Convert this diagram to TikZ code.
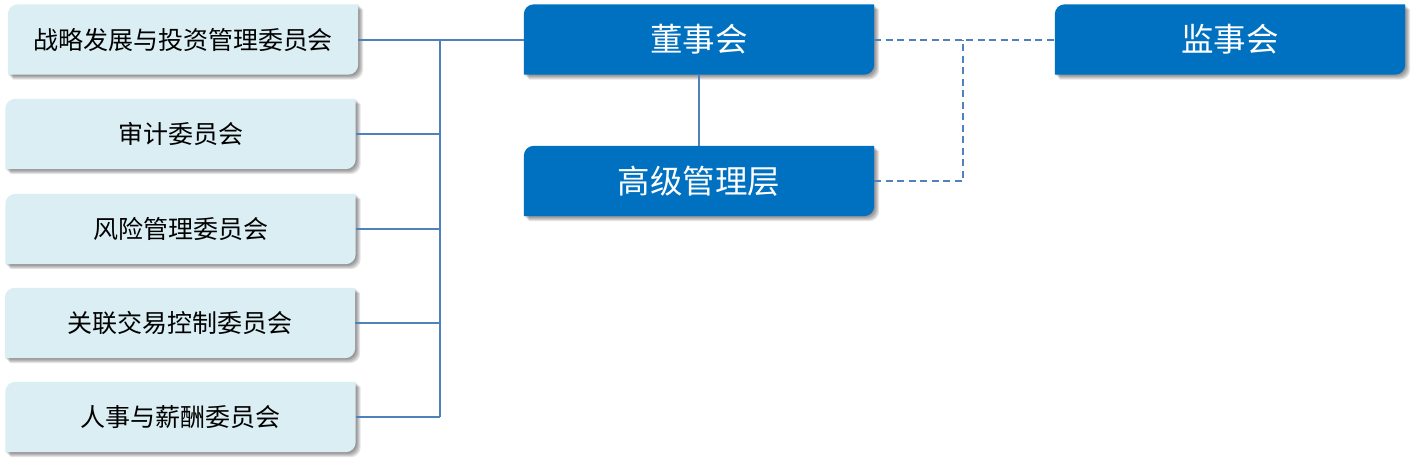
\documentclass[tikz,border=0pt]{standalone}
\usepackage{fontspec}
\setmainfont{Noto Sans CJK SC}
\usetikzlibrary{positioning,calc,backgrounds}
\definecolor{paleblue}{HTML}{DAEEF3}
\definecolor{corpblue}{HTML}{0070C0}
\definecolor{linkblue}{HTML}{4F81BD}

\begin{document}
\begin{tikzpicture}[x=1pt,y=1pt,
    committee/.style={minimum width=350pt, minimum height=70pt, inner sep=0pt,
                      font=\fontsize{25}{30}\selectfont},
    organ/.style={minimum width=350pt, minimum height=70pt, inner sep=0pt,
                  text=white, font=\fontsize{32.5}{38}\selectfont},
    card/.style 2 args={insert path={([shift={#2}]#1.south west)
        -- ([shift={#2},yshift=-10pt]#1.north west) arc[start angle=180, end angle=90, radius=10pt]
        -- ([shift={#2}]#1.north east)
        -- ([shift={#2},yshift=10pt]#1.south east) arc[start angle=0, end angle=-90, radius=10pt]
        -- cycle}},
    link/.style={linkblue, line width=2pt},
    dashlink/.style={link, dash pattern=on 7pt off 4.5pt}]
  \useasboundingbox (0,0) rectangle (1419,-466);
  % committees
  \foreach \name/\xx/\yy/\txt in {c1/183/39.5/战略发展与投资管理委员会, c2/180.5/134/审计委员会,
      c3/180.5/229/风险管理委员会, c4/180/323/关联交易控制委员会, c5/180.5/417/人事与薪酬委员会}
    \node[committee] (\name) at (\xx,-\yy) {\txt};
  \node[organ] (board) at (699,-39.5) {董事会};
  \node[organ] (mgmt)  at (699,-181)  {高级管理层};
  \node[organ] (super) at (1230,-39.5) {监事会};
  \begin{scope}[on background layer]
    \foreach \n/\c in {c1/paleblue, c2/paleblue, c3/paleblue, c4/paleblue, c5/paleblue,
                       board/corpblue, mgmt/corpblue, super/corpblue} {
      % soft shadow
      \foreach \s in {1,...,5}
        \fill[black, opacity=0.1, card={\n}{(\s pt,-\s pt)}];
      \fill[\c, card={\n}{(0pt,0pt)}];
    }
  \end{scope}
  % connectors
  \coordinate (bus) at (440,0);
  \coordinate (split) at (963,0);
  \draw[link] (c1.east) -- (board.west);
  \foreach \n in {c2,c3,c4,c5}
    \draw[link] (\n.east) -- (\n.east -| bus);
  \draw[link, line width=2.6pt] (c1.east -| bus) -- (c5.east -| bus);
  \draw[link] (board.south) -- (mgmt.north);
  \draw[dashlink] (board.east) -- (super.west);
  \draw[dashlink] (mgmt.east) -| (split |- super.west);
\end{tikzpicture}
\end{document}
